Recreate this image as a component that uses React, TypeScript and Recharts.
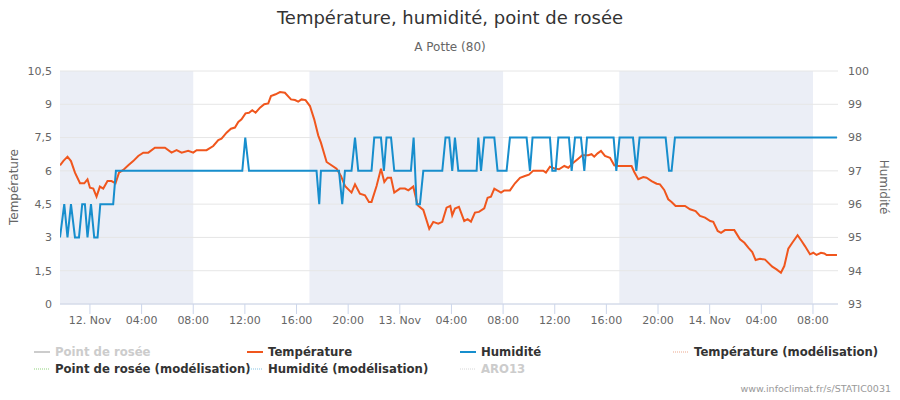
import {
  LineChart,
  Line,
  XAxis,
  YAxis,
  CartesianGrid,
  ReferenceArea,
} from "recharts";

// hours counted from 12 Nov 00:00
const tempHours = [
  -2.32, -2.07, -1.74, -1.47, -1.16, -0.77, -0.44, -0.19, 0, 0.26, 0.51, 0.77,
  1.03, 1.36, 1.67, 1.98, 2.25, 2.58, 2.97, 3.35, 3.74, 4.13, 4.52, 5.03, 5.81,
  6.32, 6.71, 7.1, 7.61, 8, 8.26, 9.03, 9.55, 9.94, 10.19, 10.58, 10.92, 11.23,
  11.49, 11.74, 12.05, 12.32, 12.57, 12.83, 13.17, 13.5, 13.81, 14.02, 14.38,
  14.72, 15.1, 15.57, 15.88, 16.13, 16.39, 16.7, 17.04, 17.37, 17.68, 17.89,
  18.33, 19.1, 19.44, 19.75, 20.26, 20.53, 20.91, 21.3, 21.61, 21.81, 22.2,
  22.54, 22.8, 23.05, 23.32, 23.57, 24.01, 24.4, 24.66, 25.04, 25.38, 25.82,
  26.28, 26.59, 26.98, 27.29, 27.62, 27.91, 28.06, 28.27, 28.58, 28.99, 29.25,
  29.51, 29.82, 30.13, 30.54, 30.8, 31.06, 31.32, 31.84, 32.09, 32.53, 32.92,
  33.31, 33.69, 34, 34.34, 35.11, 35.32, 35.63, 36.02, 36.33, 36.74, 37.05,
  37.44, 37.82, 38.13, 38.59, 38.85, 39.06, 39.32, 39.58, 39.89, 40.28, 40.61,
  40.92, 41.95, 42.16, 42.47, 42.86, 43.11, 43.5, 43.89, 44.15, 44.48, 44.79,
  45.05, 45.36, 46.09, 46.48, 46.91, 47.25, 47.64, 48.05, 48.28, 48.62, 48.88,
  49.19, 49.91, 50.35, 50.69, 50.99, 51.3, 51.56, 51.9, 52.29, 52.85, 53.18,
  53.52, 53.78, 54.09, 54.4, 54.81, 55.12, 55.38, 55.77, 56.03, 56.28, 56.62,
  56.88, 57.06, 57.86,
];
const tempValues = [
  6.25, 6.44, 6.64, 6.44, 5.92, 5.44, 5.44, 5.62, 5.24, 5.2, 4.84, 5.29, 5.2,
  5.54, 5.54, 5.44, 5.92, 6.04, 6.25, 6.44, 6.67, 6.82, 6.82, 7.04, 7.04, 6.82,
  6.93, 6.82, 6.9, 6.82, 6.93, 6.93, 7.12, 7.39, 7.45, 7.72, 7.9, 7.95, 8.2,
  8.32, 8.59, 8.62, 8.73, 8.62, 8.85, 9.0, 9.04, 9.37, 9.45, 9.55, 9.52, 9.22,
  9.19, 9.12, 9.22, 9.19, 8.92, 8.32, 7.6, 7.27, 6.4, 6.1, 5.77, 5.32, 5.02,
  5.39, 4.97, 4.9, 4.6, 4.6, 5.32, 6.1, 5.5, 5.69, 5.69, 5.02, 5.2, 5.2, 5.12,
  5.29, 4.45, 4.24, 3.39, 3.7, 3.62, 3.7, 4.34, 4.42, 4.0, 4.3, 4.38, 3.74,
  3.82, 3.71, 4.12, 4.15, 4.31, 4.79, 4.84, 5.2, 5.02, 5.12, 5.12, 5.44, 5.69,
  5.77, 5.83, 6.01, 6.01, 5.92, 6.19, 6.1, 6.07, 6.22, 6.14, 6.37, 6.55, 6.7,
  6.7, 6.75, 6.64, 6.79, 6.9, 6.67, 6.59, 6.25, 6.22, 6.22, 5.95, 5.62, 5.72,
  5.69, 5.54, 5.42, 5.39, 5.14, 4.72, 4.6, 4.42, 4.42, 4.27, 4.19, 3.97, 3.89,
  3.74, 3.7, 3.29, 3.21, 3.33, 3.33, 2.92, 2.76, 2.54, 2.34, 1.98, 2.04, 2.0,
  1.68, 1.56, 1.41, 1.71, 2.49, 2.76, 3.1, 2.84, 2.61, 2.24, 2.31, 2.21, 2.31,
  2.28, 2.21, 2.21,
];

const humHours = [
  -2.32, -1.99, -1.74, -1.47, -1.16, -0.85, -0.6, -0.39, -0.19, 0.08, 0.33,
  0.59, 0.8, 1.8, 2.01, 11.8, 12.03, 12.32, 17.55, 17.76, 17.89, 19.29, 19.54,
  19.75, 20.26, 20.53, 20.78, 21.81, 22.02, 22.54, 22.77, 22.97, 23.32, 23.57,
  24.86, 25.07, 25.3, 25.56, 25.82, 27.29, 27.54, 27.83, 28.06, 28.27, 28.53,
  29.95, 30.08, 30.29, 30.54, 31.32, 31.57, 32.27, 32.53, 33.82, 34.08, 34.28,
  35.63, 35.81, 36.07, 36.28, 37.1, 37.31, 37.57, 38.03, 38.29, 38.5, 40.56,
  40.77, 41.02, 42.06, 42.32, 42.57, 44.59, 44.85, 45.05, 45.31, 57.86,
];
const humValues = [
  95, 96, 95, 96, 95, 95, 96, 96, 95, 96, 95, 95, 96, 96, 97, 97, 98, 97, 97,
  96, 97, 97, 96, 97, 97, 98, 97, 97, 98, 98, 97, 98, 98, 97, 97, 98, 96, 96,
  97, 97, 98, 98, 97, 98, 97, 97, 98, 97, 98, 98, 97, 97, 98, 98, 97, 98, 98,
  97, 97, 98, 98, 97, 98, 98, 97, 98, 98, 97, 98, 98, 97, 98, 98, 97, 97, 98,
  98,
];

const nightStart = [-2.32, 17, 41];
const nightEnd = [8, 32, 56];

const xTicks = [0, 4, 8, 12, 16, 20, 24, 28, 32, 36, 40, 44, 48, 52, 56];
const dayLabels = ["12. Nov", "13. Nov", "14. Nov"];
const tempTicks = [0, 1.5, 3, 4.5, 6, 7.5, 9, 10.5];
const humTicks = [93, 94, 95, 96, 97, 98, 99, 100];

const legendNames = [
  "Point de rosée",
  "Température",
  "Humidité",
  "Température (modélisation)",
  "Point de rosée (modélisation)",
  "Humidité (modélisation)",
  "ARO13",
];
const legendColors = [
  "#cccccc",
  "#f0561d",
  "#178ecd",
  "#eba78c",
  "#8fd17a",
  "#86c3e3",
  "#d6d6d6",
];
const legendDotted = [false, false, false, true, true, true, true];
const legendHidden = [true, false, false, false, false, false, true];

const tempData = tempHours.map((x, i) => ({ x, t: tempValues[i] }));
const humData = humHours.map((x, i) => ({ x, h: humValues[i] }));

const fmtHour = (h: number) => {
  if (h % 24 === 0) return dayLabels[h / 24];
  const hh = h % 24;
  return (hh < 10 ? "0" : "") + hh + ":00";
};

const tickStyle = { fill: "#666666", fontSize: 11 };

export default function App() {
  return (
    <div
      style={{
        position: "absolute",
        left: 0,
        top: 0,
        width: 900,
        height: 400,
        background: "#fff",
        fontFamily: "DejaVu Sans",
      }}
    >
      <div
        style={{
          position: "absolute",
          top: 8,
          width: 900,
          textAlign: "center",
          fontSize: 18,
          lineHeight: "20px",
          color: "#333333",
        }}
      >
        Température, humidité, point de rosée
      </div>
      <div
        style={{
          position: "absolute",
          top: 40,
          width: 900,
          textAlign: "center",
          fontSize: 12,
          lineHeight: "14px",
          color: "#666666",
        }}
      >
        A Potte (80)
      </div>

      <LineChart
        width={900}
        height={400}
        margin={{ top: 71, right: 0, bottom: 66, left: 0 }}
      >
        {nightStart.map((s, i) => (
          <ReferenceArea
            key={i}
            x1={s}
            x2={nightEnd[i]}
            yAxisId="t"
            fill="#ebeef6"
            fillOpacity={1}
            stroke="none"
            zIndex={-150}
          />
        ))}
        <CartesianGrid vertical={false} stroke="#e6e6e6" yAxisId="t" />
        <XAxis
          type="number"
          dataKey="x"
          domain={[-2.32, 57.94]}
          allowDataOverflow
          ticks={xTicks}
          interval={0}
          tickFormatter={fmtHour}
          tick={tickStyle}
          tickSize={10}
          tickLine={{ stroke: "#ccd6eb" }}
          axisLine={{ stroke: "#ccd6eb" }}
          height={30}
        />
        <YAxis
          yAxisId="t"
          domain={[0, 10.5]}
          ticks={tempTicks}
          interval={0}
          tickFormatter={(v: number) => String(v).replace(".", ",")}
          tick={tickStyle}
          axisLine={false}
          tickLine={false}
          width={60}
        />
        <YAxis
          yAxisId="h"
          orientation="right"
          domain={[93, 100]}
          ticks={humTicks}
          interval={0}
          tick={tickStyle}
          axisLine={false}
          tickLine={false}
          tickMargin={4}
          width={62}
        />
        <Line
          data={tempData}
          dataKey="t"
          yAxisId="t"
          type="linear"
          stroke="#f0561d"
          strokeWidth={2}
          dot={false}
          isAnimationActive={false}
        />
        <Line
          data={humData}
          dataKey="h"
          yAxisId="h"
          type="linear"
          stroke="#178ecd"
          strokeWidth={2}
          dot={false}
          isAnimationActive={false}
        />
      </LineChart>

      <div
        style={{
          position: "absolute",
          left: 14,
          top: 187,
          transform: "translate(-50%, -50%) rotate(-90deg)",
          fontSize: 12,
          color: "#666666",
          whiteSpace: "nowrap",
        }}
      >
        Température
      </div>
      <div
        style={{
          position: "absolute",
          left: 884,
          top: 187,
          transform: "translate(-50%, -50%) rotate(90deg)",
          fontSize: 12,
          color: "#666666",
          whiteSpace: "nowrap",
        }}
      >
        Humidité
      </div>

      {legendNames.map((name, i) => {
        const col = i % 4;
        const row = Math.floor(i / 4);
        return (
          <div
            key={name}
            style={{
              position: "absolute",
              left: 34 + col * 213,
              top: 345 + row * 17,
              height: 14,
              display: "flex",
              alignItems: "center",
              fontSize: 11.7,
              fontWeight: "bold",
              lineHeight: "14px",
              whiteSpace: "nowrap",
              color: legendHidden[i] ? "#cccccc" : "#333333",
            }}
          >
            <svg width={16} height={4} style={{ marginRight: 5 }}>
              <line
                x1={0}
                y1={2}
                x2={16}
                y2={2}
                stroke={legendColors[i]}
                strokeWidth={legendDotted[i] ? 1 : 2}
                strokeDasharray={legendDotted[i] ? "1,1" : undefined}
              />
            </svg>
            {name}
          </div>
        );
      })}

      <div
        style={{
          position: "absolute",
          right: 9,
          top: 383,
          fontSize: 9.5,
          lineHeight: "12px",
          color: "#999999",
        }}
      >
        www.infoclimat.fr/s/STATIC0031
      </div>
    </div>
  );
}
